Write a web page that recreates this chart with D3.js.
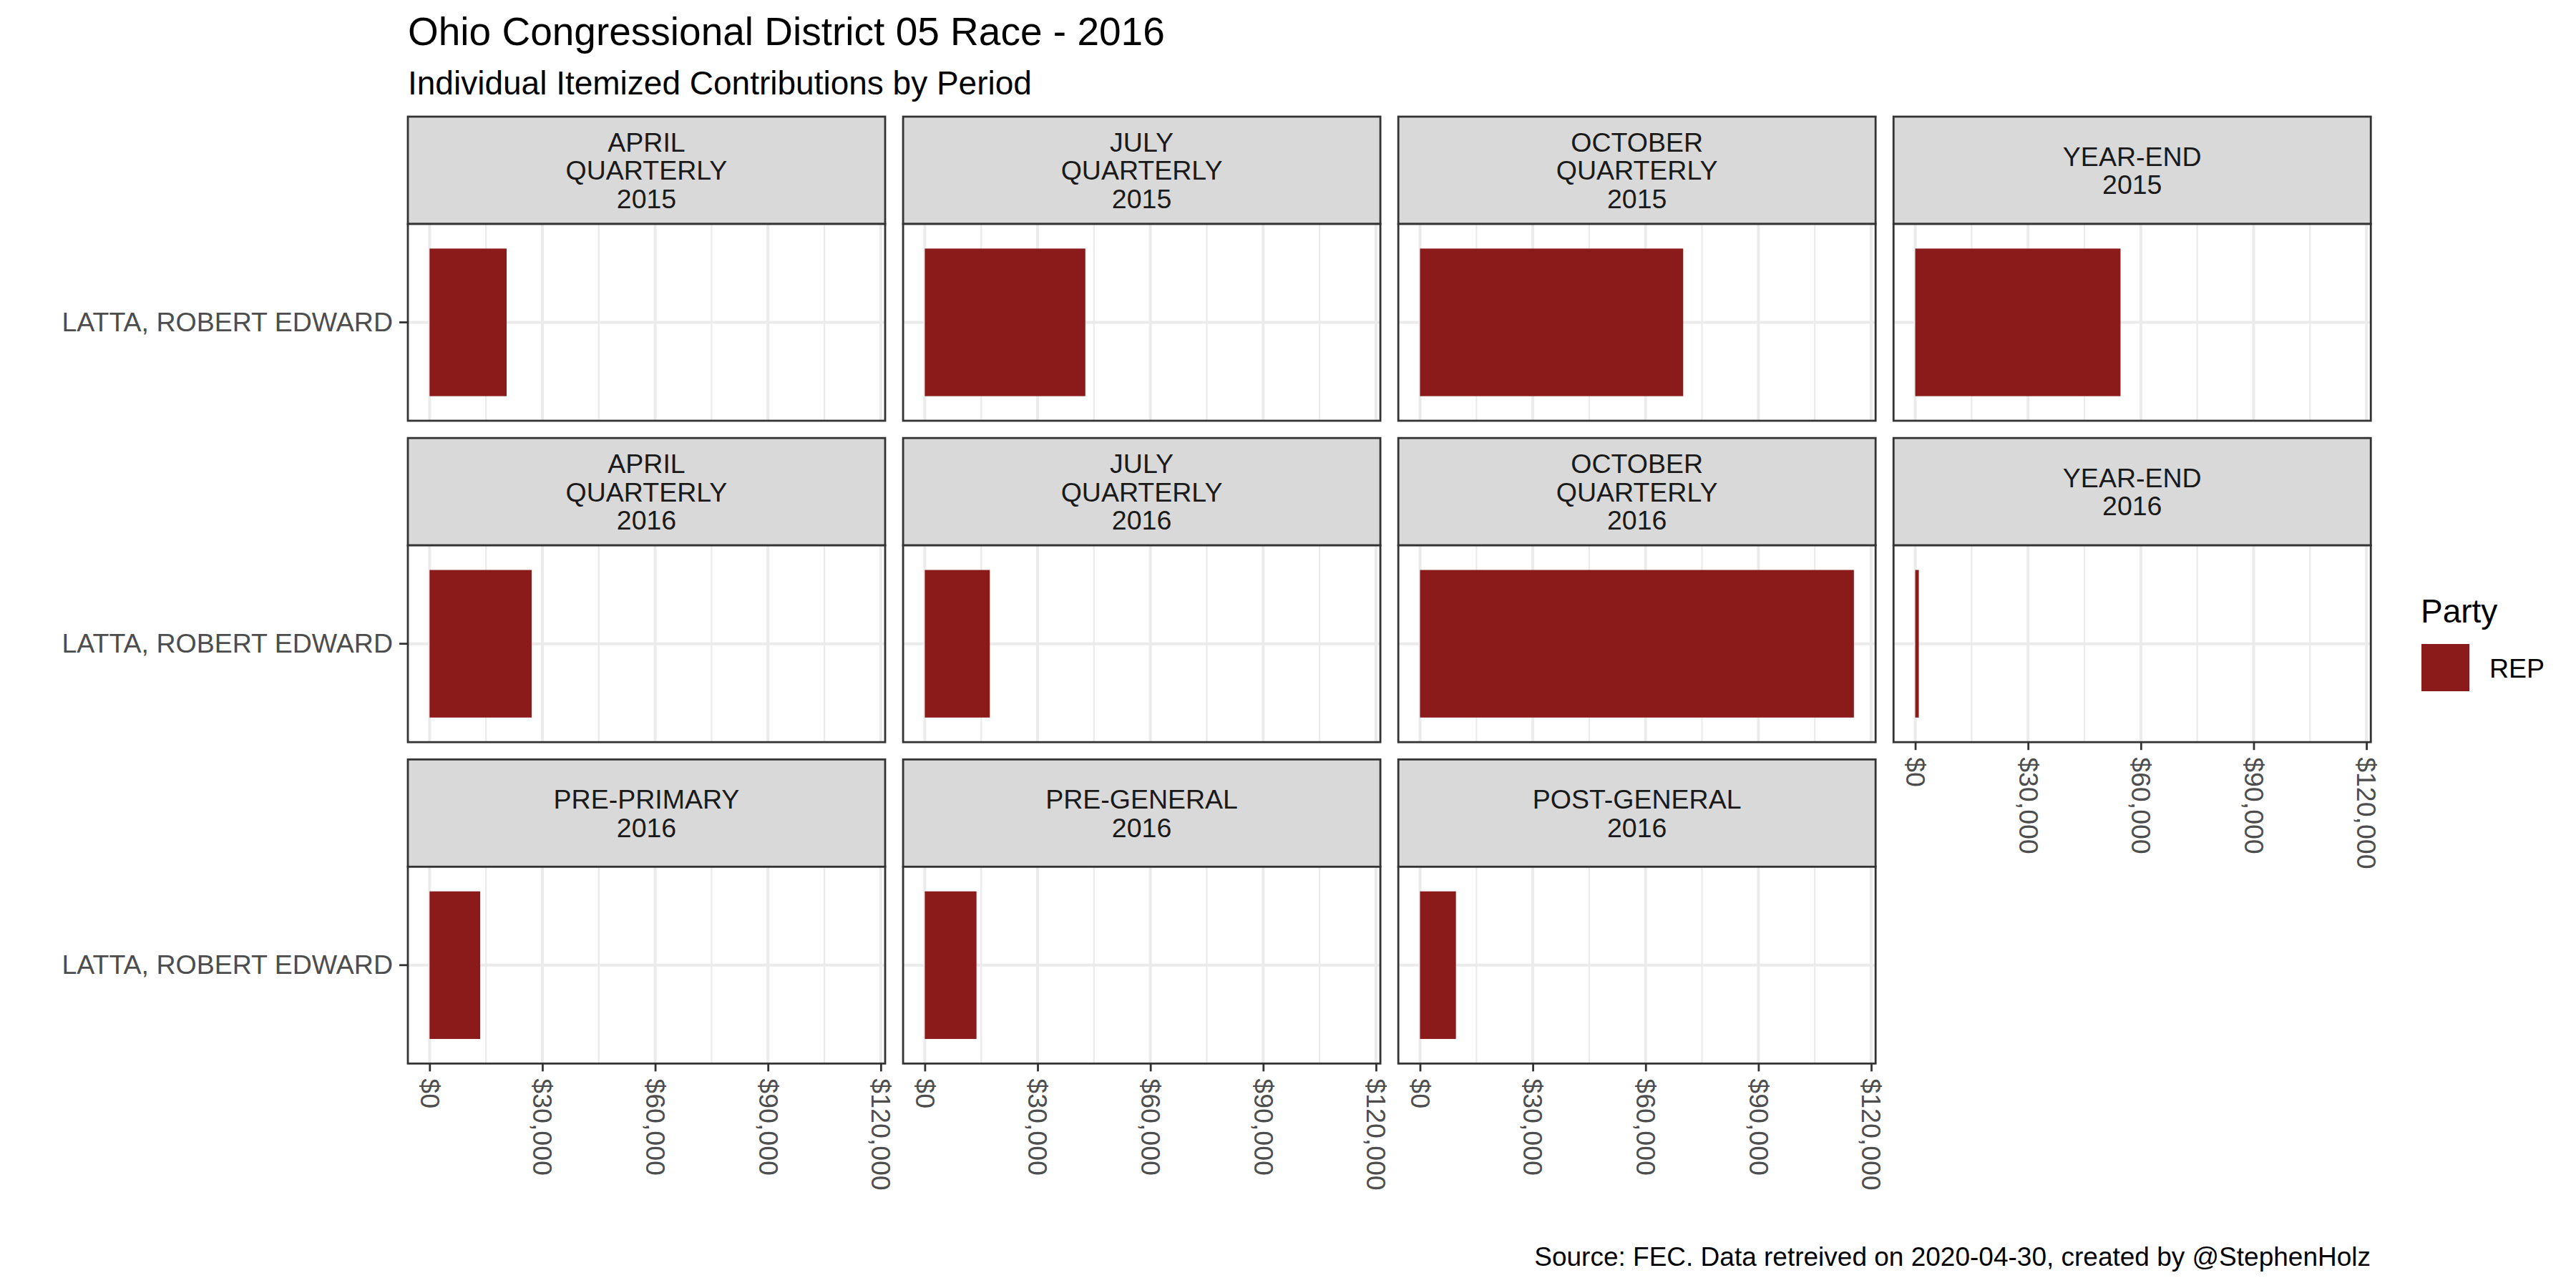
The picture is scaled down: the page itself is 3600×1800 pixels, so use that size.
<html>
<head>
<meta charset="utf-8">
<style>
  body { margin: 0; background: #ffffff; }
  svg { display: block; font-family: "Liberation Sans", Arial, sans-serif; }
  .grid-major { stroke: #ebebeb; stroke-width: 4; }
  .grid-minor { stroke: #ebebeb; stroke-width: 2.2; }
  .axis path { display: none; }
  .axis line { stroke: #333333; stroke-width: 2.8; }
  .axis text { fill: #4d4d4d; font-size: 37.5px; font-family: "Liberation Sans", Arial, sans-serif; }
</style>
</head>
<body>
<script src="https://cdn.jsdelivr.net/npm/d3@7"></script>
<script>
// facet labels (one panel per filing period)
var periods = [
  ["APRIL", "QUARTERLY", "2015"],
  ["JULY", "QUARTERLY", "2015"],
  ["OCTOBER", "QUARTERLY", "2015"],
  ["YEAR-END", "2015"],
  ["APRIL", "QUARTERLY", "2016"],
  ["JULY", "QUARTERLY", "2016"],
  ["OCTOBER", "QUARTERLY", "2016"],
  ["YEAR-END", "2016"],
  ["PRE-PRIMARY", "2016"],
  ["PRE-GENERAL", "2016"],
  ["POST-GENERAL", "2016"]
];
var candidates = ["LATTA, ROBERT EDWARD"];
var amounts = [20500, 42700, 70000, 54600, 27150, 17300, 115400, 950, 13450, 13750, 9550];
var parties = ["REP"];
var partyColors = ["#8b1a1a"];
var majorTicks = [0, 30000, 60000, 90000, 120000];
var minorTicks = [15000, 45000, 75000, 105000];

var W = 3600, H = 1800;
var ncol = 4, nrow = 3;
var stripH = 150, panelW = 667, panelH = 275;

var svg = d3.select("body").append("svg")
    .attr("width", W).attr("height", H);

svg.append("rect").attr("width", W).attr("height", H).attr("fill", "#fff");

// titles
svg.append("text").attr("x", 570).attr("y", 63)
    .attr("font-size", 55).attr("fill", "#000")
    .text("Ohio Congressional District 05 Race - 2016");
svg.append("text").attr("x", 570).attr("y", 132)
    .attr("font-size", 46).attr("fill", "#000")
    .text("Individual Itemized Contributions by Period");
svg.append("text").attr("x", 3313).attr("y", 1769)
    .attr("font-size", 37).attr("fill", "#000")
    .attr("text-anchor", "end")
    .text("Source: FEC. Data retreived on 2020-04-30, created by @StephenHolz");

// facet grid positions
var colX = d3.scaleBand().domain(d3.range(ncol)).range([570, 3313]).paddingInner(0.0366);
var rowY = d3.scaleBand().domain(d3.range(nrow)).range([163, 1486]).paddingInner(0.0545);

// shared scales (ggplot style 5% expansion)
var maxV = d3.max(amounts);
var x = d3.scaleLinear().domain([-0.05 * maxV, 1.05 * maxV]).range([0, panelW]);
var y = d3.scaleBand().domain(candidates).range([0, panelH]).paddingInner(0.1).paddingOuter(0.15);
var fmt = d3.format("$,.0f");

periods.forEach(function(lab, i) {
    var c = i % ncol, r = Math.floor(i / ncol);
    var g = svg.append("g")
        .attr("transform", "translate(" + colX(c) + "," + rowY(r) + ")");

    // strip
    g.append("rect")
        .attr("width", panelW).attr("height", stripH)
        .attr("fill", "#d9d9d9").attr("stroke", "#333333").attr("stroke-width", 2.8);
    var lh = 39.8;
    var first = stripH / 2 - (lab.length - 1) * lh / 2 + 13.4;
    lab.forEach(function(t, k) {
        g.append("text")
            .attr("x", panelW / 2).attr("y", first + k * lh)
            .attr("text-anchor", "middle")
            .attr("font-size", 37.5).attr("fill", "#1a1a1a")
            .text(t);
    });

    var p = g.append("g").attr("transform", "translate(0," + stripH + ")");
    p.append("rect").attr("width", panelW).attr("height", panelH).attr("fill", "#fff");

    // grid
    p.selectAll(".grid-minor").data(minorTicks).enter().append("line")
        .attr("class", "grid-minor")
        .attr("x1", x).attr("x2", x).attr("y1", 0).attr("y2", panelH);
    p.selectAll(".grid-major").data(majorTicks).enter().append("line")
        .attr("class", "grid-major")
        .attr("x1", x).attr("x2", x).attr("y1", 0).attr("y2", panelH);
    p.selectAll(".grid-h").data(candidates).enter().append("line")
        .attr("class", "grid-major")
        .attr("x1", 0).attr("x2", panelW)
        .attr("y1", function(d) { return y(d) + y.bandwidth() / 2; })
        .attr("y2", function(d) { return y(d) + y.bandwidth() / 2; });

    // bar
    p.append("rect")
        .attr("x", x(0))
        .attr("y", y(candidates[0]))
        .attr("width", x(amounts[i]) - x(0))
        .attr("height", y.bandwidth())
        .attr("fill", partyColors[0]);

    // border
    p.append("rect").attr("width", panelW).attr("height", panelH)
        .attr("fill", "none").attr("stroke", "#333333").attr("stroke-width", 2.8);

    // y axis on first column
    if (c === 0) {
        p.append("g").attr("class", "axis")
            .call(d3.axisLeft(y).tickSize(12).tickPadding(9));
    }
    // x axis where no panel sits below
    if (i + ncol >= periods.length) {
        var ax = p.append("g").attr("class", "axis")
            .attr("transform", "translate(0," + panelH + ")")
            .call(d3.axisBottom(x).tickValues(majorTicks).tickFormat(fmt).tickSize(11));
        ax.selectAll("text")
            .attr("transform", "rotate(90)")
            .attr("text-anchor", "start")
            .attr("x", 21).attr("y", 0).attr("dy", "0.35em");
    }
});

// legend
var leg = svg.append("g");
leg.append("text").attr("x", 3383).attr("y", 870)
    .attr("font-size", 46).attr("fill", "#000").text("Party");
parties.forEach(function(pt, k) {
    leg.append("rect").attr("x", 3384).attr("y", 900 + k * 70)
        .attr("width", 67).attr("height", 66).attr("fill", partyColors[k]);
    leg.append("text").attr("x", 3479).attr("y", 947 + k * 70)
        .attr("font-size", 37.5).attr("fill", "#000").text(pt);
});
</script>
</body>
</html>
